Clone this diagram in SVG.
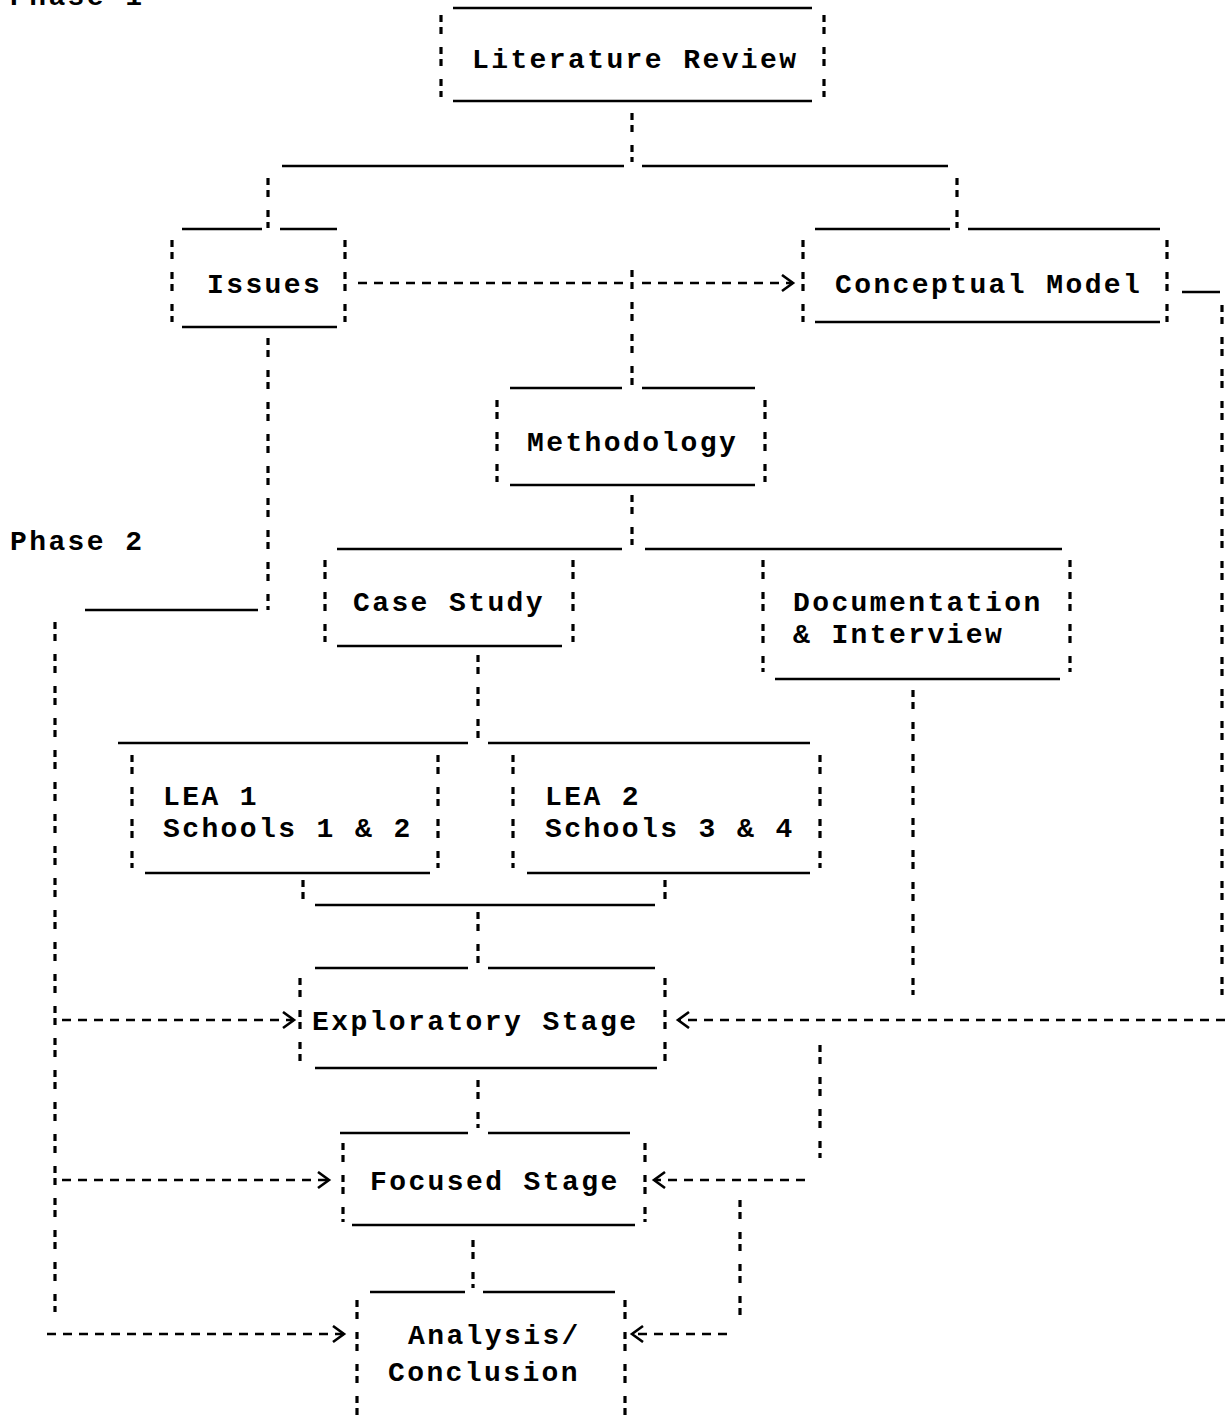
<svg xmlns="http://www.w3.org/2000/svg" width="1225" height="1415" viewBox="0 0 1225 1415">
<style>
  text { font-family: "Liberation Mono", "DejaVu Sans Mono", monospace; font-size: 28px; font-weight: bold; letter-spacing: 2.4px; fill: #000; }
  .s { stroke: #000; stroke-width: 2.5; fill: none; }
  .v { stroke: #000; stroke-width: 3.2; fill: none; stroke-dasharray: 7 5 7 13; }
  .d { stroke: #000; stroke-width: 2.5; fill: none; stroke-dasharray: 9 7; }
  .a { marker-end: url(#ah); }
</style>
<defs>
  <marker id="ah" markerUnits="userSpaceOnUse" markerWidth="16" markerHeight="20" refX="12" refY="9" orient="auto">
    <path d="M1,1 L12,9 L1,17" fill="none" stroke="#000" stroke-width="2.6"/>
  </marker>
</defs>
<rect width="1225" height="1415" fill="#fff"/>

<text x="10" y="5">Phase 1</text>
<text x="10" y="550">Phase 2</text>

<g id="literature-review">
  <line class="s" x1="453" y1="8" x2="812" y2="8"/>
  <line class="v" x1="441" y1="15" x2="441" y2="97"/>
  <line class="v" x1="824" y1="15" x2="824" y2="97"/>
  <line class="s" x1="453" y1="101" x2="812" y2="101"/>
  <text x="472" y="68">Literature Review</text>
</g>

<g id="issues">
  <line class="s" x1="182" y1="229" x2="262" y2="229"/>
  <line class="s" x1="280" y1="229" x2="337" y2="229"/>
  <line class="v" x1="172" y1="240" x2="172" y2="322"/>
  <line class="v" x1="345" y1="240" x2="345" y2="322"/>
  <line class="s" x1="182" y1="327" x2="337" y2="327"/>
  <text x="207" y="293">Issues</text>
</g>

<g id="conceptual-model">
  <line class="s" x1="815" y1="229" x2="950" y2="229"/>
  <line class="s" x1="968" y1="229" x2="1160" y2="229"/>
  <line class="v" x1="803" y1="240" x2="803" y2="322"/>
  <line class="v" x1="1167" y1="240" x2="1167" y2="322"/>
  <line class="s" x1="815" y1="322" x2="1160" y2="322"/>
  <text x="835" y="293">Conceptual Model</text>
</g>

<g id="methodology">
  <line class="s" x1="510" y1="388" x2="622" y2="388"/>
  <line class="s" x1="642" y1="388" x2="755" y2="388"/>
  <line class="v" x1="497" y1="400" x2="497" y2="482"/>
  <line class="v" x1="765" y1="400" x2="765" y2="482"/>
  <line class="s" x1="510" y1="485" x2="755" y2="485"/>
  <text x="527" y="451">Methodology</text>
</g>

<g id="case-study">
  <line class="s" x1="337" y1="549" x2="622" y2="549"/>
  <line class="v" x1="325" y1="560" x2="325" y2="642"/>
  <line class="v" x1="573" y1="560" x2="573" y2="642"/>
  <line class="s" x1="337" y1="646" x2="562" y2="646"/>
  <text x="353" y="611">Case Study</text>
</g>

<g id="documentation-interview">
  <line class="s" x1="645" y1="549" x2="1062" y2="549"/>
  <line class="v" x1="763" y1="560" x2="763" y2="672"/>
  <line class="v" x1="1070" y1="560" x2="1070" y2="672"/>
  <line class="s" x1="775" y1="679" x2="1060" y2="679"/>
  <text x="793" y="611">Documentation</text>
  <text x="793" y="643">&amp; Interview</text>
</g>

<g id="lea-1">
  <line class="s" x1="118" y1="743" x2="468" y2="743"/>
  <line class="v" x1="132" y1="755" x2="132" y2="868"/>
  <line class="v" x1="438" y1="755" x2="438" y2="868"/>
  <line class="s" x1="145" y1="873" x2="430" y2="873"/>
  <text x="163" y="805">LEA 1</text>
  <text x="163" y="837">Schools 1 &amp; 2</text>
</g>

<g id="lea-2">
  <line class="s" x1="488" y1="743" x2="810" y2="743"/>
  <line class="v" x1="513" y1="755" x2="513" y2="868"/>
  <line class="v" x1="820" y1="755" x2="820" y2="868"/>
  <line class="s" x1="527" y1="873" x2="810" y2="873"/>
  <text x="545" y="805">LEA 2</text>
  <text x="545" y="837">Schools 3 &amp; 4</text>
</g>

<g id="exploratory-stage">
  <line class="s" x1="315" y1="968" x2="468" y2="968"/>
  <line class="s" x1="488" y1="968" x2="655" y2="968"/>
  <line class="v" x1="300" y1="978" x2="300" y2="1062"/>
  <line class="v" x1="665" y1="978" x2="665" y2="1062"/>
  <line class="s" x1="315" y1="1068" x2="657" y2="1068"/>
  <text x="312" y="1030">Exploratory Stage</text>
</g>

<g id="focused-stage">
  <line class="s" x1="340" y1="1133" x2="468" y2="1133"/>
  <line class="s" x1="488" y1="1133" x2="630" y2="1133"/>
  <line class="v" x1="343" y1="1143" x2="343" y2="1222"/>
  <line class="v" x1="645" y1="1143" x2="645" y2="1222"/>
  <line class="s" x1="352" y1="1225" x2="635" y2="1225"/>
  <text x="370" y="1190">Focused Stage</text>
</g>

<g id="analysis-conclusion">
  <line class="s" x1="370" y1="1292" x2="465" y2="1292"/>
  <line class="s" x1="483" y1="1292" x2="615" y2="1292"/>
  <line class="v" x1="357" y1="1300" x2="357" y2="1415"/>
  <line class="v" x1="625" y1="1300" x2="625" y2="1415"/>
  <text x="408" y="1344">Analysis/</text>
  <text x="388" y="1381">Conclusion</text>
</g>

<g id="connectors">
  <line class="v" x1="632" y1="113" x2="632" y2="162"/>
  <line class="s" x1="282" y1="166" x2="624" y2="166"/>
  <line class="s" x1="642" y1="166" x2="948" y2="166"/>
  <line class="v" x1="268" y1="178" x2="268" y2="228"/>
  <line class="v" x1="957" y1="178" x2="957" y2="228"/>
  <line class="d" x1="358" y1="283" x2="624" y2="283"/>
  <line class="d a" x1="642" y1="283" x2="793" y2="283"/>
  <line class="v" x1="632" y1="270" x2="632" y2="385"/>
  <line class="v" x1="632" y1="495" x2="632" y2="545"/>
  <line class="v" x1="268" y1="338" x2="268" y2="610"/>
  <line class="s" x1="85" y1="610" x2="258" y2="610"/>
  <line class="v" x1="55" y1="622" x2="55" y2="1312"/>
  <line class="d a" x1="62" y1="1020" x2="294" y2="1020"/>
  <line class="d a" x1="62" y1="1180" x2="329" y2="1180"/>
  <line class="d a" x1="47" y1="1334" x2="344" y2="1334"/>
  <line class="v" x1="478" y1="655" x2="478" y2="738"/>
  <line class="v" x1="303" y1="880" x2="303" y2="902"/>
  <line class="v" x1="665" y1="880" x2="665" y2="902"/>
  <line class="s" x1="315" y1="905" x2="655" y2="905"/>
  <line class="v" x1="478" y1="912" x2="478" y2="964"/>
  <line class="v" x1="913" y1="690" x2="913" y2="995"/>
  <line class="s" x1="1182" y1="292" x2="1220" y2="292"/>
  <line class="v" x1="1222" y1="305" x2="1222" y2="995"/>
  <line class="d a" x1="1225" y1="1020" x2="678" y2="1020"/>
  <line class="v" x1="478" y1="1080" x2="478" y2="1128"/>
  <line class="v" x1="820" y1="1045" x2="820" y2="1158"/>
  <line class="d a" x1="805" y1="1180" x2="654" y2="1180"/>
  <line class="v" x1="473" y1="1240" x2="473" y2="1288"/>
  <line class="v" x1="740" y1="1200" x2="740" y2="1315"/>
  <line class="d a" x1="727" y1="1334" x2="632" y2="1334"/>
</g>
</svg>
